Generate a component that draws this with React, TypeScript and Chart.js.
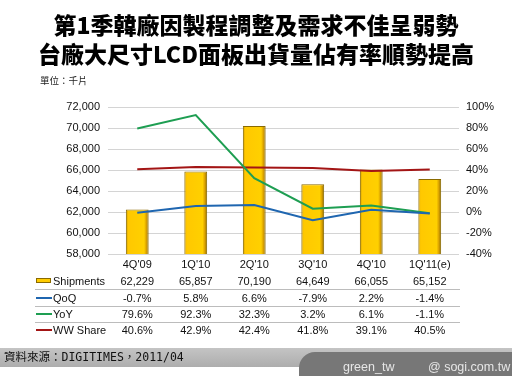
import React, { useEffect, useRef } from "react";
import { Chart, registerables } from "chart.js";

Chart.register(...registerables);

const titleLines = ["第1季韓廠因製程調整及需求不佳呈弱勢", "台廠大尺寸LCD面板出貨量佔有率順勢提高"];
const unitLabel = "單位：千片";
const categories = ["4Q'09", "1Q'10", "2Q'10", "3Q'10", "4Q'10", "1Q'11(e)"];
const shipments = [62229, 65857, 70190, 64649, 66055, 65152];
const qoq = [-0.7, 5.8, 6.6, -7.9, 2.2, -1.4];
const yoy = [79.6, 92.3, 32.3, 3.2, 6.1, -1.1];
const wwShare = [40.6, 42.9, 42.4, 41.8, 39.1, 40.5];
const sourceText = "資料來源：DIGITIMES，2011/04";
const credit1 = "green_tw";
const credit2 = "@ sogi.com.tw";

const COL_BAR = "#FFCC00";
const COL_BAR_EDGE = "#8A6A00";
const COL_QOQ = "#1F66B0";
const COL_YOY = "#1E9E52";
const COL_WW = "#A31515";

const AREA_L = 108;
const AREA_R = 459;
const AREA_T = 107;
const AREA_B = 254;
const W = 512;
const H = 376;
const BAR_PCT = 0.39;

const fmtNum = (v: number) => v.toLocaleString("en-US");
const fmtPct = (v: number) => v.toFixed(1) + "%";

const rows = [
  { name: "Shipments", values: shipments.map(fmtNum), kind: "bar", color: COL_BAR },
  { name: "QoQ", values: qoq.map(fmtPct), kind: "line", color: COL_QOQ },
  { name: "YoY", values: yoy.map(fmtPct), kind: "line", color: COL_YOY },
  { name: "WW Share", values: wwShare.map(fmtPct), kind: "line", color: COL_WW },
];

function barFill(ctx: any) {
  const chart = ctx.chart;
  const xs = chart.scales && chart.scales.x;
  if (!xs || !chart.chartArea || ctx.dataIndex === undefined) return COL_BAR;
  const cx = xs.getPixelForValue(ctx.dataIndex);
  const bw = (xs.width / categories.length) * BAR_PCT;
  const g = chart.ctx.createLinearGradient(cx - bw / 2, 0, cx + bw / 2, 0);
  g.addColorStop(0, "#C89400");
  g.addColorStop(0.1, "#FFC800");
  g.addColorStop(0.8, "#FFD000");
  g.addColorStop(0.9, "#D9A000");
  g.addColorStop(1, "#8A6A00");
  return g;
}

export default function App() {
  const ref = useRef<HTMLCanvasElement>(null);
  useEffect(() => {
    if (!ref.current) return;
    const chart = new Chart(ref.current, {
      type: "bar",
      data: {
        labels: categories,
        datasets: [
          {
            type: "line",
            label: "QoQ",
            data: qoq,
            yAxisID: "y1",
            borderColor: COL_QOQ,
            borderWidth: 2,
            pointRadius: 0,
            tension: 0,
            order: 0,
          },
          {
            type: "line",
            label: "YoY",
            data: yoy,
            yAxisID: "y1",
            borderColor: COL_YOY,
            borderWidth: 2,
            pointRadius: 0,
            tension: 0,
            order: 0,
          },
          {
            type: "line",
            label: "WW Share",
            data: wwShare,
            yAxisID: "y1",
            borderColor: COL_WW,
            borderWidth: 2,
            pointRadius: 0,
            tension: 0,
            order: 0,
          },
          {
            type: "bar",
            label: "Shipments",
            data: shipments,
            yAxisID: "y",
            backgroundColor: barFill,
            borderColor: COL_BAR_EDGE,
            borderWidth: 1,
            categoryPercentage: 1,
            barPercentage: BAR_PCT,
            order: 1,
          },
        ],
      },
      options: {
        animation: false,
        responsive: false,
        maintainAspectRatio: false,
        layout: { padding: { top: AREA_T, bottom: H - AREA_B - 20, left: 0, right: 0 } },
        plugins: { legend: { display: false }, tooltip: { enabled: false }, title: { display: false } },
        scales: {
          x: {
            grid: { display: false, drawTicks: false },
            border: { display: false },
            ticks: { color: "#111", font: { family: "Liberation Sans", size: 11 }, padding: 4, maxRotation: 0 },
            afterFit: (s: any) => {
              s.height = 20;
            },
          },
          y: {
            position: "left",
            min: 58000,
            max: 72000,
            ticks: {
              stepSize: 2000,
              color: "#111",
              font: { family: "Liberation Sans", size: 11 },
              padding: 8,
              callback: (v: any) => Number(v).toLocaleString("en-US"),
            },
            grid: { color: "#d4d4d4", lineWidth: 1, drawTicks: false },
            border: { display: false },
            afterFit: (s: any) => {
              s.width = AREA_L;
            },
          },
          y1: {
            position: "right",
            min: -40,
            max: 100,
            ticks: {
              stepSize: 20,
              color: "#111",
              font: { family: "Liberation Sans", size: 11 },
              padding: 7,
              callback: (v: any) => v + "%",
            },
            grid: { display: false, drawTicks: false },
            border: { display: false },
            afterFit: (s: any) => {
              s.width = W - AREA_R;
            },
          },
        },
      },
    });
    return () => chart.destroy();
  }, []);

  const colW = (AREA_R - AREA_L) / categories.length;
  const rowY = [281, 297.5, 314, 330];
  const sepY = [289, 305.5, 322];

  return (
    <div
      style={{
        position: "fixed",
        left: 0,
        top: 0,
        width: W,
        height: H,
        background: "#fff",
        overflow: "hidden",
        fontFamily: "'Liberation Sans', Arial, sans-serif",
      }}
    >
      <canvas ref={ref} width={W} height={H} style={{ position: "absolute", left: 0, top: 0, width: W, height: H }} />
      {titleLines.map((t, i) => (
        <div
          key={i}
          style={{
            position: "absolute",
            left: 0,
            width: W,
            top: 10 + i * 29,
            textAlign: "center",
            fontFamily: "'Noto Sans CJK TC', sans-serif",
            fontWeight: 900,
            fontSize: 23,
            lineHeight: "28px",
            color: "#000",
            whiteSpace: "nowrap",
          }}
        >
          {t}
        </div>
      ))}
      <div
        style={{
          position: "absolute",
          left: 40,
          top: 73,
          fontFamily: "'Noto Sans CJK TC', sans-serif",
          fontSize: 9.5,
          lineHeight: "14px",
          color: "#222",
        }}
      >
        {unitLabel}
      </div>
      {sepY.map((y, i) => (
        <div
          key={"s" + i}
          style={{ position: "absolute", left: 35, width: 425, top: y, height: 1, background: "#bcbcbc" }}
        />
      ))}
      {rows.map((r, ri) => (
        <React.Fragment key={r.name}>
          {r.kind === "bar" ? (
            <div
              style={{
                position: "absolute",
                left: 36,
                top: rowY[ri] - 3,
                width: 15,
                height: 5,
                background: COL_BAR,
                border: "1px solid " + COL_BAR_EDGE,
                boxSizing: "border-box",
              }}
            />
          ) : (
            <div
              style={{ position: "absolute", left: 36, top: rowY[ri] - 1, width: 16, height: 2, background: r.color }}
            />
          )}
          <div
            style={{
              position: "absolute",
              left: 53,
              top: rowY[ri] - 8,
              fontSize: 11,
              lineHeight: "16px",
              color: "#111",
              whiteSpace: "nowrap",
            }}
          >
            {r.name}
          </div>
          {r.values.map((v, ci) => (
            <div
              key={ci}
              style={{
                position: "absolute",
                left: AREA_L + ci * colW,
                width: colW,
                top: rowY[ri] - 8,
                textAlign: "center",
                fontSize: 11,
                lineHeight: "16px",
                color: "#111",
                whiteSpace: "nowrap",
              }}
            >
              {v}
            </div>
          ))}
        </React.Fragment>
      ))}
      <div
        style={{
          position: "absolute",
          left: 0,
          top: 348,
          width: W,
          height: 19,
          background: "linear-gradient(#c4c4c4, #adadad)",
        }}
      />
      <div
        style={{
          position: "absolute",
          left: 4,
          top: 349,
          fontFamily: "'DejaVu Sans Mono', 'Noto Sans CJK TC', monospace",
          fontSize: 11.5,
          lineHeight: "16px",
          color: "#111",
          whiteSpace: "nowrap",
        }}
      >
        {sourceText}
      </div>
      <div
        style={{
          position: "absolute",
          left: 299,
          top: 352,
          width: W - 299,
          height: H - 352,
          background: "#777",
          borderTopLeftRadius: 16,
        }}
      />
      <div
        style={{
          position: "absolute",
          left: 343,
          top: 359,
          fontSize: 12.5,
          lineHeight: "16px",
          color: "#e6e6e6",
          whiteSpace: "nowrap",
        }}
      >
        {credit1}
      </div>
      <div
        style={{
          position: "absolute",
          left: 428,
          top: 359,
          fontSize: 12.5,
          lineHeight: "16px",
          color: "#e6e6e6",
          whiteSpace: "nowrap",
        }}
      >
        {credit2}
      </div>
    </div>
  );
}
